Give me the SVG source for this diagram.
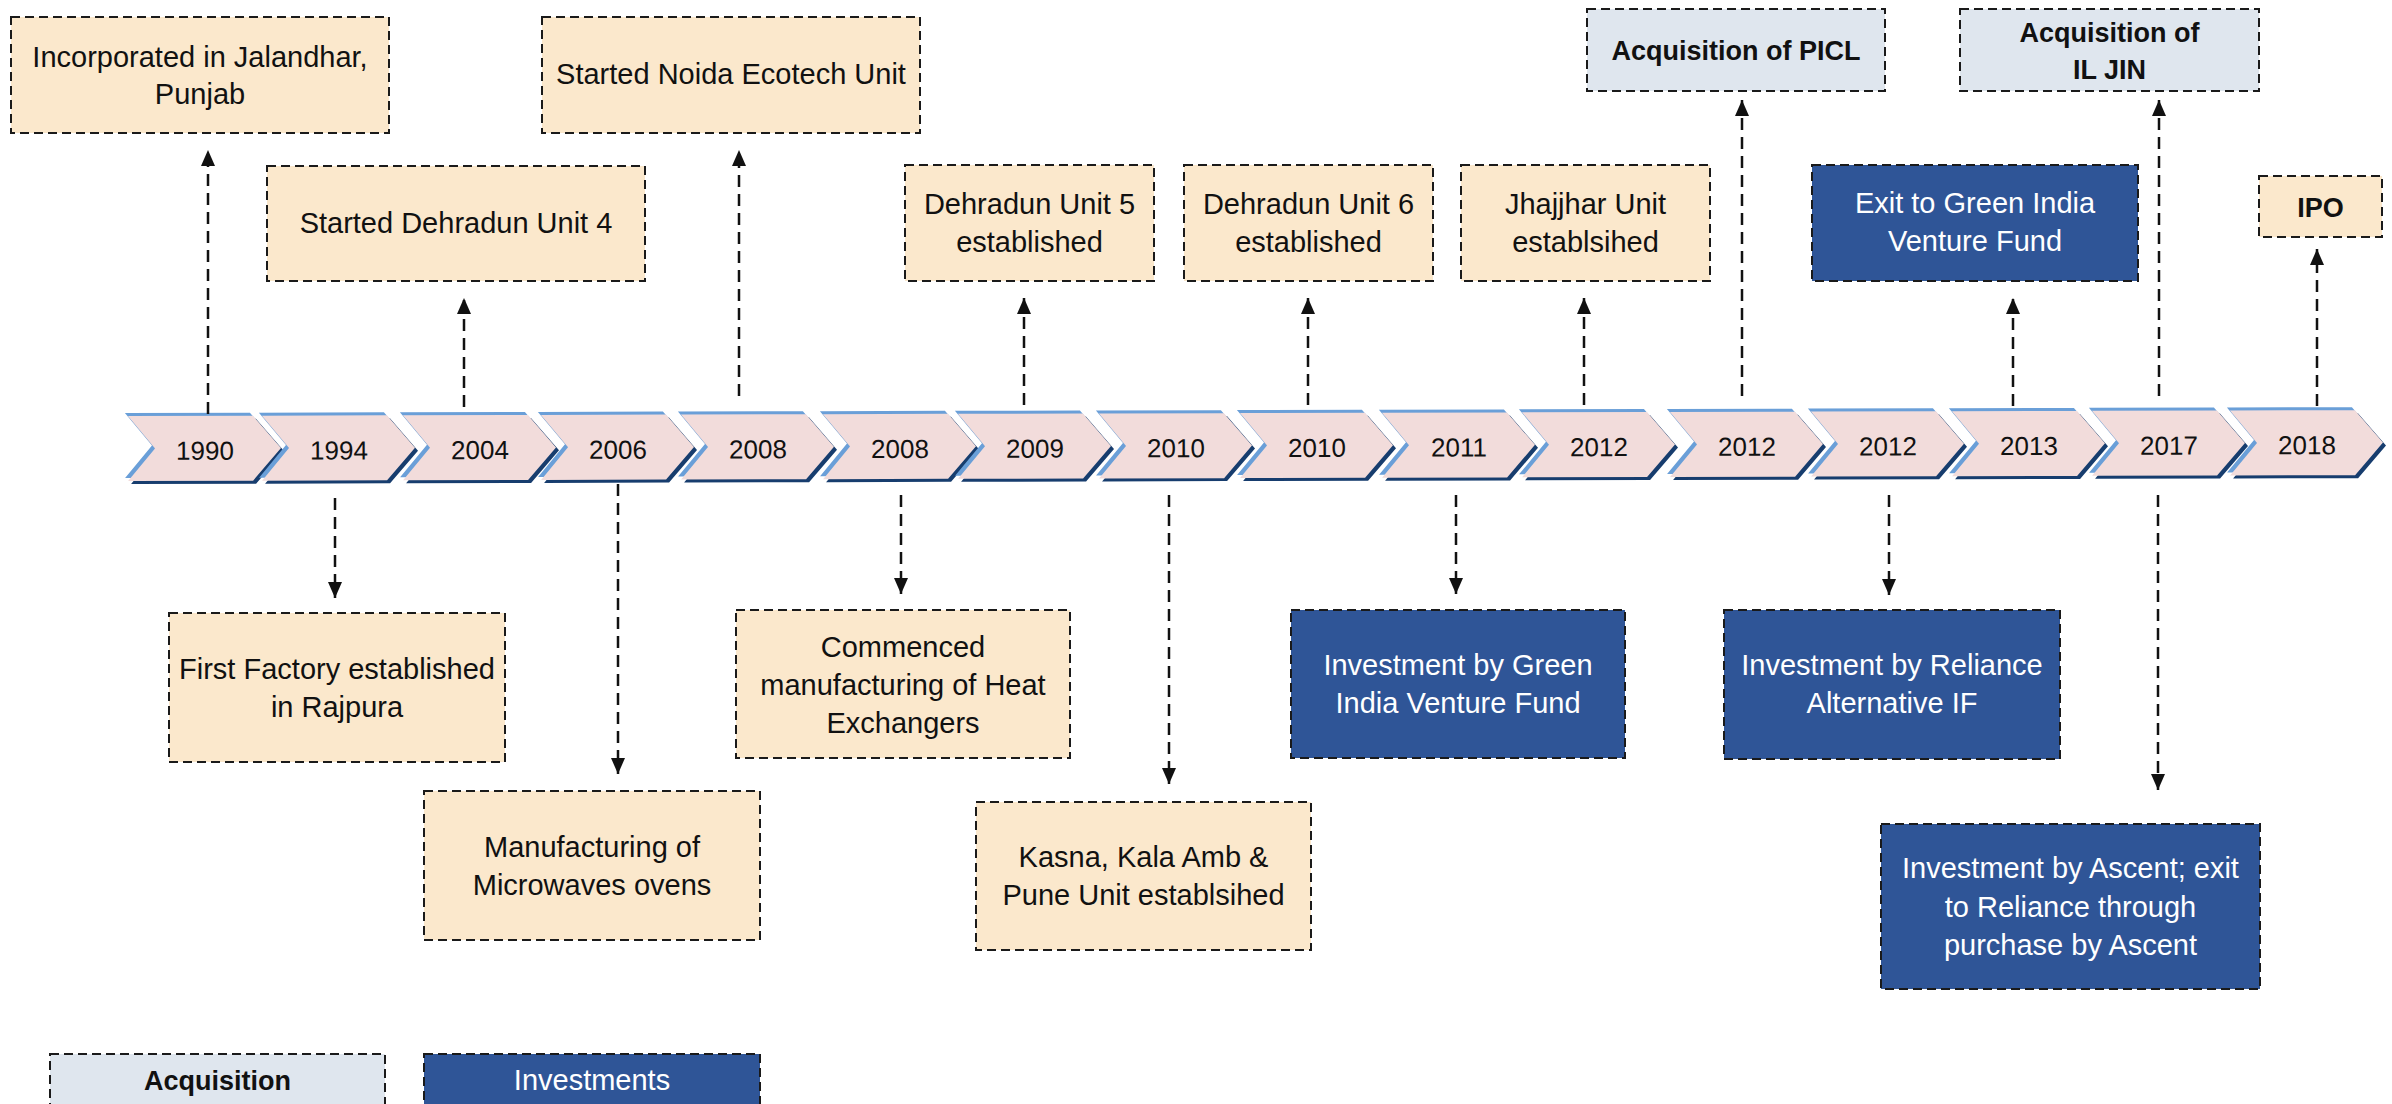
<svg xmlns="http://www.w3.org/2000/svg" xmlns:xlink="http://www.w3.org/1999/xlink" width="2392" height="1104" viewBox="0 0 2392 1104">
<style>
.box{stroke:#1a1a1a;stroke-width:2;stroke-dasharray:9 5}
.tan{fill:#fbe8cc}
.acq{fill:#dfe6ee}
.inv{fill:#2f5597}
.t{font-family:"Liberation Sans",Arial,sans-serif;font-size:29px;fill:#111;text-anchor:middle}
.w{fill:#ffffff}
.b{font-weight:bold;font-size:27px}
.year{font-family:"Liberation Sans",Arial,sans-serif;font-size:26px;fill:#111;text-anchor:middle}
.conn line{stroke:#111;stroke-width:2.5;stroke-dasharray:12 7;fill:none;marker-end:url(#ah)}
</style>
<defs>
<marker id="ah" viewBox="0 0 16 14" refX="16" refY="7" markerWidth="16" markerHeight="14" markerUnits="userSpaceOnUse" orient="auto">
<path d="M0,0L16,7L0,14Z" fill="#111"/>
</marker>
<path id="cp" d="M0,416H125L153,448.5L125,481H0L27,448.5Z"/>
<g id="chev">
<use xlink:href="#cp" href="#cp" x="-3" y="-3" fill="#6a9fd8"/>
<use xlink:href="#cp" href="#cp" x="3" y="3" fill="#173d6e"/>
<use xlink:href="#cp" href="#cp" fill="#f2dcdb"/>
</g>
</defs>
<rect width="2392" height="1104" fill="#ffffff"/>

<g id="timeline" transform="rotate(-0.15 128 448)">
<g id="y1990"><use xlink:href="#chev" href="#chev" x="128"/><text class="year" x="205" y="460">1990</text></g>
<g id="y1994"><use xlink:href="#chev" href="#chev" x="262"/><text class="year" x="339" y="460">1994</text></g>
<g id="y2004"><use xlink:href="#chev" href="#chev" x="403"/><text class="year" x="480" y="460">2004</text></g>
<g id="y2006"><use xlink:href="#chev" href="#chev" x="541"/><text class="year" x="618" y="460">2006</text></g>
<g id="y2008a"><use xlink:href="#chev" href="#chev" x="681"/><text class="year" x="758" y="460">2008</text></g>
<g id="y2008b"><use xlink:href="#chev" href="#chev" x="823"/><text class="year" x="900" y="460">2008</text></g>
<g id="y2009"><use xlink:href="#chev" href="#chev" x="958"/><text class="year" x="1035" y="460">2009</text></g>
<g id="y2010a"><use xlink:href="#chev" href="#chev" x="1099"/><text class="year" x="1176" y="460">2010</text></g>
<g id="y2010b"><use xlink:href="#chev" href="#chev" x="1240"/><text class="year" x="1317" y="460">2010</text></g>
<g id="y2011"><use xlink:href="#chev" href="#chev" x="1382"/><text class="year" x="1459" y="460">2011</text></g>
<g id="y2012a"><use xlink:href="#chev" href="#chev" x="1522"/><text class="year" x="1599" y="460">2012</text></g>
<g id="y2012b"><use xlink:href="#chev" href="#chev" x="1670"/><text class="year" x="1747" y="460">2012</text></g>
<g id="y2012c"><use xlink:href="#chev" href="#chev" x="1811"/><text class="year" x="1888" y="460">2012</text></g>
<g id="y2013"><use xlink:href="#chev" href="#chev" x="1952"/><text class="year" x="2029" y="460">2013</text></g>
<g id="y2017"><use xlink:href="#chev" href="#chev" x="2092"/><text class="year" x="2169" y="460">2017</text></g>
<g id="y2018"><use xlink:href="#chev" href="#chev" x="2230"/><text class="year" x="2307" y="460">2018</text></g>
</g>

<g id="connectors" class="conn">
<line x1="208" y1="414" x2="208" y2="150"/>
<line x1="464" y1="407" x2="464" y2="298"/>
<line x1="739" y1="396" x2="739" y2="150"/>
<line x1="1024" y1="405" x2="1024" y2="298"/>
<line x1="1308" y1="405" x2="1308" y2="298"/>
<line x1="1584" y1="405" x2="1584" y2="298"/>
<line x1="1742" y1="396" x2="1742" y2="100"/>
<line x1="2013" y1="406" x2="2013" y2="298"/>
<line x1="2159" y1="396" x2="2159" y2="100"/>
<line x1="2317" y1="406" x2="2317" y2="249"/>
<line x1="335" y1="498" x2="335" y2="598"/>
<line x1="618" y1="484" x2="618" y2="774"/>
<line x1="901" y1="495" x2="901" y2="594"/>
<line x1="1169" y1="495" x2="1169" y2="784"/>
<line x1="1456" y1="495" x2="1456" y2="594"/>
<line x1="1889" y1="495" x2="1889" y2="595"/>
<line x1="2158" y1="495" x2="2158" y2="790"/>
</g>

<g id="n-incorporated"><rect class="box tan" x="11" y="17" width="378" height="116"/><text class="t" x="200" y="67">Incorporated in Jalandhar,</text><text class="t" x="200" y="104">Punjab</text></g>
<g id="n-noida"><rect class="box tan" x="542" y="17" width="378" height="116"/><text class="t" x="731" y="84">Started Noida Ecotech Unit</text></g>
<g id="n-dehradun4"><rect class="box tan" x="267" y="166" width="378" height="115"/><text class="t" x="456" y="233">Started Dehradun Unit 4</text></g>
<g id="n-dehradun5"><rect class="box tan" x="905" y="165" width="249" height="116"/><text class="t" x="1029.5" y="214">Dehradun Unit 5</text><text class="t" x="1029.5" y="252">established</text></g>
<g id="n-dehradun6"><rect class="box tan" x="1184" y="165" width="249" height="116"/><text class="t" x="1308.5" y="214">Dehradun Unit 6</text><text class="t" x="1308.5" y="252">established</text></g>
<g id="n-jhajjhar"><rect class="box tan" x="1461" y="165" width="249" height="116"/><text class="t" x="1585.5" y="214">Jhajjhar Unit</text><text class="t" x="1585.5" y="252">establsihed</text></g>
<g id="n-picl"><rect class="box acq" x="1587" y="9" width="298" height="82"/><text class="t b" x="1736" y="60">Acquisition of PICL</text></g>
<g id="n-iljin"><rect class="box acq" x="1960" y="9" width="299" height="82"/><text class="t b" x="2109.5" y="42">Acquisition of</text><text class="t b" x="2109.5" y="79">IL JIN</text></g>
<g id="n-exit"><rect class="box inv" x="1812" y="165" width="326" height="116"/><text class="t w" x="1975" y="213">Exit to Green India</text><text class="t w" x="1975" y="251">Venture Fund</text></g>
<g id="n-ipo"><rect class="box tan" x="2259" y="176" width="123" height="61"/><text class="t b" x="2320.5" y="217">IPO</text></g>

<g id="n-firstfactory"><rect class="box tan" x="169" y="613" width="336" height="149"/><text class="t" x="337" y="679">First Factory established</text><text class="t" x="337" y="717">in Rajpura</text></g>
<g id="n-microwaves"><rect class="box tan" x="424" y="791" width="336" height="149"/><text class="t" x="592" y="857">Manufacturing of</text><text class="t" x="592" y="895">Microwaves ovens</text></g>
<g id="n-heatex"><rect class="box tan" x="736" y="610" width="334" height="148"/><text class="t" x="903" y="657">Commenced</text><text class="t" x="903" y="695">manufacturing of Heat</text><text class="t" x="903" y="733">Exchangers</text></g>
<g id="n-kasna"><rect class="box tan" x="976" y="802" width="335" height="148"/><text class="t" x="1143.5" y="867">Kasna, Kala Amb &amp;</text><text class="t" x="1143.5" y="905">Pune Unit establsihed</text></g>
<g id="n-greenindia"><rect class="box inv" x="1291" y="610" width="334" height="148"/><text class="t w" x="1458" y="675">Investment by Green</text><text class="t w" x="1458" y="713">India Venture Fund</text></g>
<g id="n-reliance"><rect class="box inv" x="1724" y="610" width="336" height="149"/><text class="t w" x="1892" y="675">Investment by Reliance</text><text class="t w" x="1892" y="713">Alternative IF</text></g>
<g id="n-ascent"><rect class="box inv" x="1881" y="824" width="379" height="165"/><text class="t w" x="2070.5" y="878">Investment by Ascent; exit</text><text class="t w" x="2070.5" y="917">to Reliance through</text><text class="t w" x="2070.5" y="955">purchase by Ascent</text></g>

<g id="legend-acquisition"><rect class="box acq" x="50" y="1054" width="335" height="58"/><text class="t b" x="217.5" y="1090">Acquisition</text></g>
<g id="legend-investments"><rect class="box inv" x="424" y="1054" width="336" height="58"/><text class="t w" x="592" y="1090">Investments</text></g>
</svg>
